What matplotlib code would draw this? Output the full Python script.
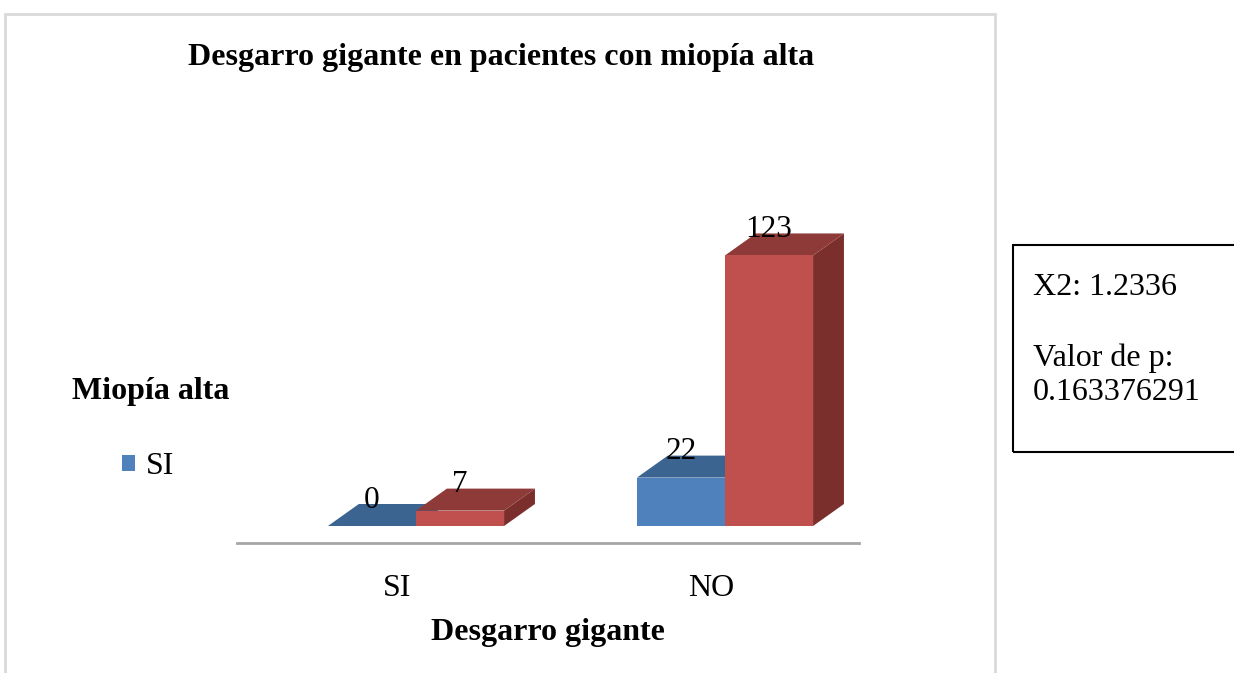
import matplotlib.pyplot as plt
from matplotlib.patches import Polygon, Rectangle, Patch

plt.rcParams['font.family'] = ['Liberation Serif', 'DejaVu Serif']

categories = ["SI", "NO"]          # Desgarro gigante
miopia_si = [0, 22]
miopia_no = [7, 123]

title = "Desgarro gigante en pacientes con miopía alta"
stats_text = "X2: 1.2336\n\nValor de p:\n0.163376291"

W, H = 1234, 673
fig = plt.figure(figsize=(W / 100, H / 100), dpi=100)


def fx(px):
    return px / W


def fy(py):
    return (H - py) / H


# outer chart frame
fig.patches.append(Rectangle((fx(5), fy(690)), fx(995) - fx(5), fy(14) - fy(690),
                             transform=fig.transFigure, fill=False,
                             edgecolor="#D9D9D9", lw=2))

# plot area
ax = fig.add_axes([fx(237), fy(543), fx(859) - fx(237), fy(180) - fy(543)])
ax.set_xlim(-0.5793, 1.4337)
ax.set_ylim(-7.73, 157.3)
for s in ["top", "right", "left"]:
    ax.spines[s].set_visible(False)
ax.spines["bottom"].set_color("#A6A6A6")
ax.spines["bottom"].set_linewidth(2)
ax.set_yticks([])

width = 0.285
dx, dy = 0.100, 10.0


def bar3d(x0, h, front, top, side):
    x1 = x0 + width
    ax.add_patch(Polygon([(x1, 0), (x1 + dx, dy), (x1 + dx, h + dy), (x1, h)],
                         closed=True, facecolor=side, edgecolor="none"))
    ax.add_patch(Polygon([(x0, h), (x1, h), (x1 + dx, h + dy), (x0 + dx, h + dy)],
                         closed=True, facecolor=top, edgecolor="none"))
    if h > 0:
        ax.add_patch(Rectangle((x0, 0), width, h, facecolor=front, edgecolor="none"))
    ax.text(x0 + width / 2, h + dy + 1.8, str(h), ha="center", va="center",
            fontsize=22.5, color="black")


for i in range(len(categories)):
    bar3d(i - width, miopia_si[i], "#4F81BD", "#3C6491", "#365A84")
    bar3d(i, miopia_no[i], "#C0504D", "#8E3A38", "#7B2F2D")

ax.set_xticks([-0.06, 0.955])
ax.set_xticklabels(categories, fontsize=23)
ax.tick_params(axis="x", length=0, pad=22)
ax.set_xlabel("Desgarro gigante", fontsize=23, fontweight="bold", labelpad=11)

fig.text(fx(501), fy(57), title, ha="center", va="center",
         fontsize=23, fontweight="bold")

# legend
fig.text(fx(72), fy(392), "Miopía alta", ha="left", va="center",
         fontsize=23, fontweight="bold")
fig.legend(handles=[Patch(facecolor="#4F81BD", label=categories[0])],
           loc="center left", bbox_to_anchor=(fx(93), fy(467)),
           frameon=False, fontsize=23, handlelength=0.42, handleheight=0.42,
           handletextpad=0.35)

# statistics box
fig.patches.append(Rectangle((fx(1013), fy(452)), fx(1240) - fx(1013), fy(245) - fy(452),
                             transform=fig.transFigure, fill=False,
                             edgecolor="black", lw=1.5))
fig.text(fx(1033), fy(273), stats_text, ha="left", va="top",
         fontsize=23, linespacing=1.27)

fig.savefig("out.png", dpi=100)
